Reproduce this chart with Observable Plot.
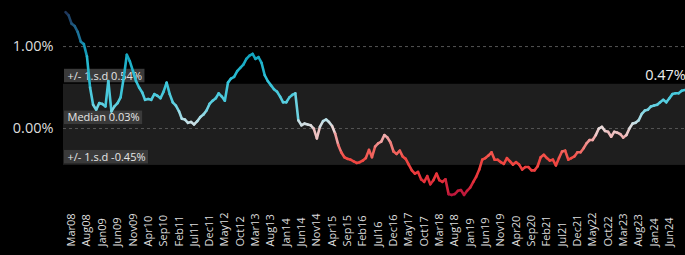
<!DOCTYPE html>
<html>
<head>
<meta charset="utf-8">
<script src="https://cdn.jsdelivr.net/npm/d3@7"></script>
<script src="https://cdn.jsdelivr.net/npm/@observablehq/plot@0.6"></script>
<style>
  html, body { margin: 0; padding: 0; background: #000; }
  #chart svg { display: block; background: #000; }
</style>
</head>
<body>
<div id="chart"></div>
<script>
// ---- data ----
const startYear = 2008, startMonth = 0; // Jan 2008, monthly observations
const values = [
  1.42, 1.38, 1.28, 1.25, 1.18, 1.06, 1.03, 0.88, 0.50, 0.29,
  0.23, 0.31, 0.30, 0.27, 0.58, 0.21, 0.27, 0.31, 0.38, 0.62,
  0.90, 0.82, 0.70, 0.58, 0.50, 0.44, 0.35, 0.36, 0.35, 0.42,
  0.40, 0.37, 0.45, 0.56, 0.42, 0.32, 0.28, 0.21, 0.12, 0.11,
  0.07, 0.08, 0.05, 0.09, 0.14, 0.17, 0.22, 0.30, 0.34, 0.37,
  0.43, 0.39, 0.34, 0.56, 0.61, 0.63, 0.70, 0.74, 0.78, 0.85,
  0.89, 0.91, 0.85, 0.87, 0.80, 0.65, 0.58, 0.53, 0.48, 0.45,
  0.39, 0.32, 0.32, 0.38, 0.41, 0.43, 0.10, 0.04, 0.06, 0.05,
  0.04, 0.00, -0.12, 0.02, 0.09, 0.11, 0.08, 0.03, -0.06, -0.20,
  -0.29, -0.35, -0.37, -0.38, -0.40, -0.42, -0.41, -0.39, -0.36, -0.26,
  -0.35, -0.22, -0.18, -0.16, -0.08, -0.11, -0.17, -0.28, -0.31, -0.27,
  -0.34, -0.37, -0.44, -0.51, -0.55, -0.53, -0.62, -0.65, -0.58, -0.68,
  -0.63, -0.55, -0.63, -0.65, -0.62, -0.80, -0.81, -0.80, -0.76, -0.75,
  -0.81, -0.76, -0.72, -0.65, -0.59, -0.50, -0.38, -0.36, -0.33, -0.29,
  -0.38, -0.38, -0.41, -0.43, -0.36, -0.40, -0.44, -0.41, -0.44, -0.50,
  -0.47, -0.47, -0.51, -0.51, -0.46, -0.35, -0.32, -0.36, -0.39, -0.38,
  -0.45, -0.36, -0.28, -0.27, -0.38, -0.36, -0.34, -0.29, -0.29, -0.24,
  -0.18, -0.14, -0.14, -0.08, 0.00, 0.02, -0.03, -0.04, -0.10, -0.04,
  -0.05, -0.07, -0.11, -0.08, 0.00, 0.06, 0.07, 0.10, 0.18, 0.22,
  0.23, 0.27, 0.28, 0.29, 0.32, 0.35, 0.32, 0.37, 0.42, 0.43,
  0.43, 0.46, 0.47
];
const median = 0.03;
const sdUpper = 0.54;
const sdLower = -0.45;
const yTicks = [0, 1];
const xTickStart = [2008, 2];   // Mar08
const xTickStepMonths = 5;
const xTickCount = 40;          // Mar08 ... Jun24
const bandLabels = [
  { value: sdUpper, text: "+/- 1.s.d 0.54%" },
  { value: median,  text: "Median 0.03%" },
  { value: sdLower, text: "+/- 1.s.d -0.45%" }
];
const lastLabel = "0.47%";

// ---- derived tables ----
const t0 = new Date(Date.UTC(startYear, startMonth, 1));
const series = values.map((v, i) => ({ date: d3.utcMonth.offset(t0, i), value: v }));
const segments = d3.pairs(series).map(([a, b]) => ({
  x1: a.date, y1: a.value, x2: b.date, y2: b.value, c: (a.value + b.value) / 2
}));
const xTicks = d3.range(xTickCount).map(k =>
  d3.utcMonth.offset(new Date(Date.UTC(xTickStart[0], xTickStart[1], 1)), k * xTickStepMonths));
const last = series[series.length - 1];

// ---- layout ----
const W = 685, H = 255;
const mL = 63, mR = 0, mT = 1, mB = 45;
const xDomain = [series[0].date, last.date];
const xRange = [65, 684.3];
const yDomain = [-1, 1.55];
const yRange = [H - mB, mT];
const xs = d3.scaleUtc(xDomain, xRange);
const ys = d3.scaleLinear(yDomain, yRange);

const FONT = "Open Sans";
const boxFont = 11;
const ctx = document.createElement("canvas").getContext("2d");
ctx.font = `${boxFont}px "${FONT}"`;
const boxH = 13.5;
const boxes = bandLabels.map(d => {
  const w = ctx.measureText(d.text).width;
  const yb = ys(d.value) - 1.5;
  return {
    ...d,
    x1: xs.invert(mL + 1), x2: xs.invert(mL + 1 + w + 6),
    y1: ys.invert(yb), y2: ys.invert(yb - boxH)
  };
});

const chart = Plot.plot({
  width: W, height: H,
  marginLeft: mL, marginRight: mR, marginTop: mT, marginBottom: mB,
  style: { background: "#000", color: "#ddd", fontFamily: FONT, overflow: "visible" },
  x: { type: "utc", domain: xDomain, range: xRange },
  y: { domain: yDomain, range: yRange },
  color: {
    type: "linear",
    domain: [-0.85, -0.6, -0.35, -0.12, 0.0, 0.1, 0.3, 0.6, 0.9, 1.15, 1.42],
    range: ["#b0103c", "#e8343a", "#f24c44", "#f0a4a4", "#eadada", "#b8e0e8",
            "#5ccfe0", "#2ec0d6", "#12a4be", "#1f6e95", "#1f3357"]
  },
  marks: [
    Plot.rect([{}], { y1: sdLower, y2: sdUpper, fill: "#1e1e1e" }),
    Plot.gridY(yTicks, { stroke: "#555", strokeOpacity: 1, strokeDasharray: "3,3", strokeWidth: 1 }),
    Plot.axisY(yTicks, {
      tickSize: 0, tickPadding: 10, fontSize: 14.5, fill: "#ddd",
      tickFormat: d => d.toFixed(2) + "%", label: null
    }),
    Plot.axisX(xTicks, {
      tickSize: 0, tickPadding: 0, tickRotate: -90, textAnchor: "start", lineAnchor: "middle",
      dy: 36, fontSize: 11, fill: "#ddd", tickFormat: d3.utcFormat("%b%y"), label: null
    }),
    Plot.rect(boxes, { x1: "x1", x2: "x2", y1: "y1", y2: "y2", fill: "#3a3a3a" }),
    Plot.text(boxes, {
      frameAnchor: "left", y: "value", text: "text", dx: 4, dy: -1.5 - boxH / 2,
      textAnchor: "start", lineAnchor: "middle", fontSize: boxFont, fill: "#e6e6e6"
    }),
    Plot.link(segments, {
      x1: "x1", y1: "y1", x2: "x2", y2: "y2", stroke: "c",
      strokeWidth: 2.6, strokeLinecap: "round"
    }),
    Plot.text([last], {
      x: "date", y: "value", text: () => lastLabel, textAnchor: "end", lineAnchor: "middle",
      dy: -15, dx: 1, fontSize: 14.5, fill: "#eee"
    })
  ]
});
document.getElementById("chart").append(chart);
</script>
</body>
</html>
